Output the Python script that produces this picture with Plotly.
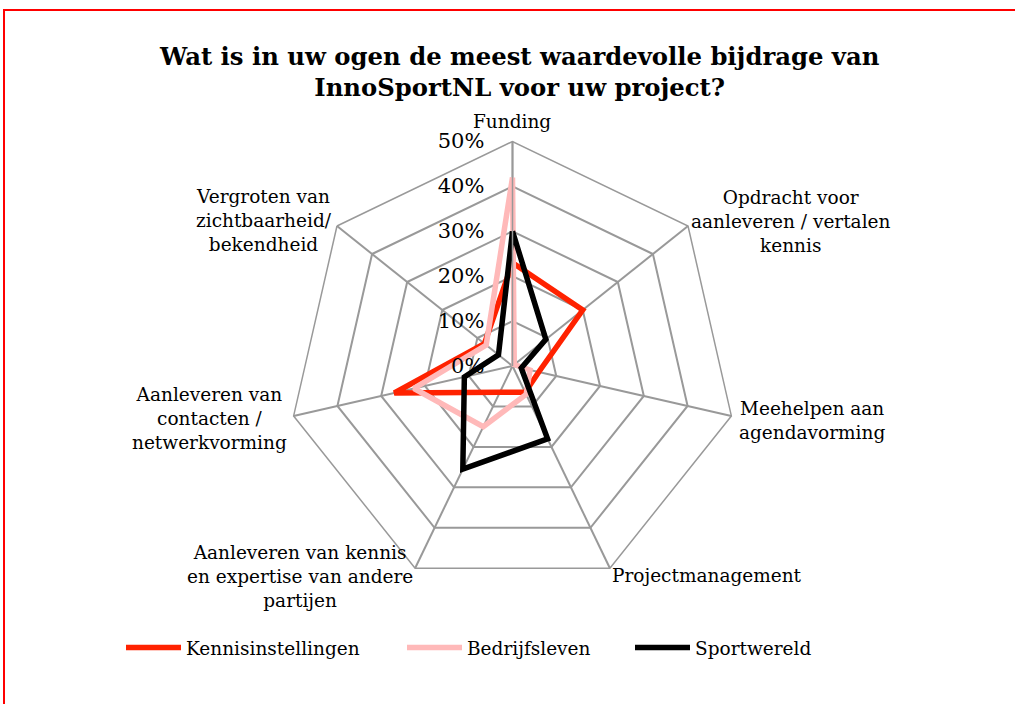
import plotly.graph_objects as go

categories = [
    "Funding",
    "Opdracht voor<br>aanleveren / vertalen<br>kennis",
    "Meehelpen aan<br>agendavorming",
    "Projectmanagement",
    "Aanleveren van kennis<br>en expertise van andere<br>partijen",
    "Aanleveren van<br>contacten /<br>netwerkvorming",
    "Vergroten van<br>zichtbaarheid/<br>bekendheid",
]

kennisinstellingen = [23, 20, 6, 6.5, 6.5, 27, 8]
bedrijfsleven = [42, 0.5, 4, 7, 15, 22.5, 7.5]
sportwereld = [30, 9.5, 2, 18, 25.5, 11, 4]

radial_ticks = [0, 10, 20, 30, 40, 50]
radial_labels = ["0%", "10%", "20%", "30%", "40%", "50%"]

series = [
    ("Kennisinstellingen", kennisinstellingen, "#ff2200", "legend"),
    ("Bedrijfsleven", bedrijfsleven, "#ffb9b9", "legend2"),
    ("Sportwereld", sportwereld, "#000000", "legend3"),
]

FONT = "Georgia, 'DejaVu Serif', serif"
PAD = "\u00a0" * 3  # pushes the radial labels off the axis a bit

fig = go.Figure()
for name, vals, col, leg in series:
    fig.add_trace(go.Scatterpolar(
        r=vals + vals[:1],
        theta=categories + categories[:1],
        mode="lines",
        name=name,
        legend=leg,
        showlegend=True,
        line=dict(color=col, width=5.5),
    ))

# category label positions (px) - placed by hand like the original
label_pos = [
    (512, 121), (791, 221), (812, 420), (707, 575),
    (300, 576), (209, 418), (264, 220),
]
annotations = []
for cat, (px_, py_) in zip(categories, label_pos):
    annotations.append(dict(
        text=cat, x=px_ / 1015, y=1 - py_ / 704, xref="paper", yref="paper",
        showarrow=False, xanchor="center", yanchor="middle", align="center",
        font=dict(family=FONT, size=18.5, color="#000"),
    ))

legend_style = dict(
    orientation="h", yanchor="middle", y=1 - 648 / 704, xanchor="left",
    font=dict(family=FONT, size=18.5, color="#000"),
    itemwidth=55, bgcolor="rgba(0,0,0,0)", visible=True,
)

fig.update_layout(
    width=1015,
    height=704,
    showlegend=True,
    paper_bgcolor="white",
    plot_bgcolor="white",
    margin=dict(l=0, r=0, t=0, b=0),
    title=dict(
        text="Wat is in uw ogen de meest waardevolle bijdrage van<br>InnoSportNL voor uw project?",
        x=0.512, xanchor="center", y=0.908, yanchor="middle",
        font=dict(family=FONT, size=24.3, color="#000", weight="bold"),
    ),
    polar=dict(
        domain=dict(x=[288 / 1015, 737 / 1015], y=[113.5 / 704, 562.5 / 704]),
        bgcolor="white",
        gridshape="linear",
        radialaxis=dict(
            range=[0, 50],
            tickvals=radial_ticks,
            ticktext=[t + PAD for t in radial_labels],
            angle=90,
            tickangle=90,
            side="counterclockwise",
            ticks="",
            showline=True,
            linecolor="#999999",
            linewidth=1.5,
            gridcolor="#999999",
            gridwidth=1.5,
            tickfont=dict(family=FONT, size=21, color="#000"),
        ),
        angularaxis=dict(
            rotation=90,
            direction="clockwise",
            showticklabels=False,
            ticks="",
            showline=True,
            linecolor="#999999",
            linewidth=1.5,
            gridcolor="#999999",
            gridwidth=1.5,
        ),
    ),
    legend=dict(legend_style, x=121 / 1015),
    legend2=dict(legend_style, x=402 / 1015),
    legend3=dict(legend_style, x=630 / 1015),
    annotations=annotations,
    shapes=[dict(
        type="rect", xref="paper", yref="paper",
        x0=4 / 1015, x1=1.02, y0=-0.02, y1=1 - 10 / 704,
        line=dict(color="#ff0000", width=2),
    )],
)

fig.write_html(
    "out.html",
    config={"displayModeBar": False},
    post_script="document.body.style.margin='0';",
)
